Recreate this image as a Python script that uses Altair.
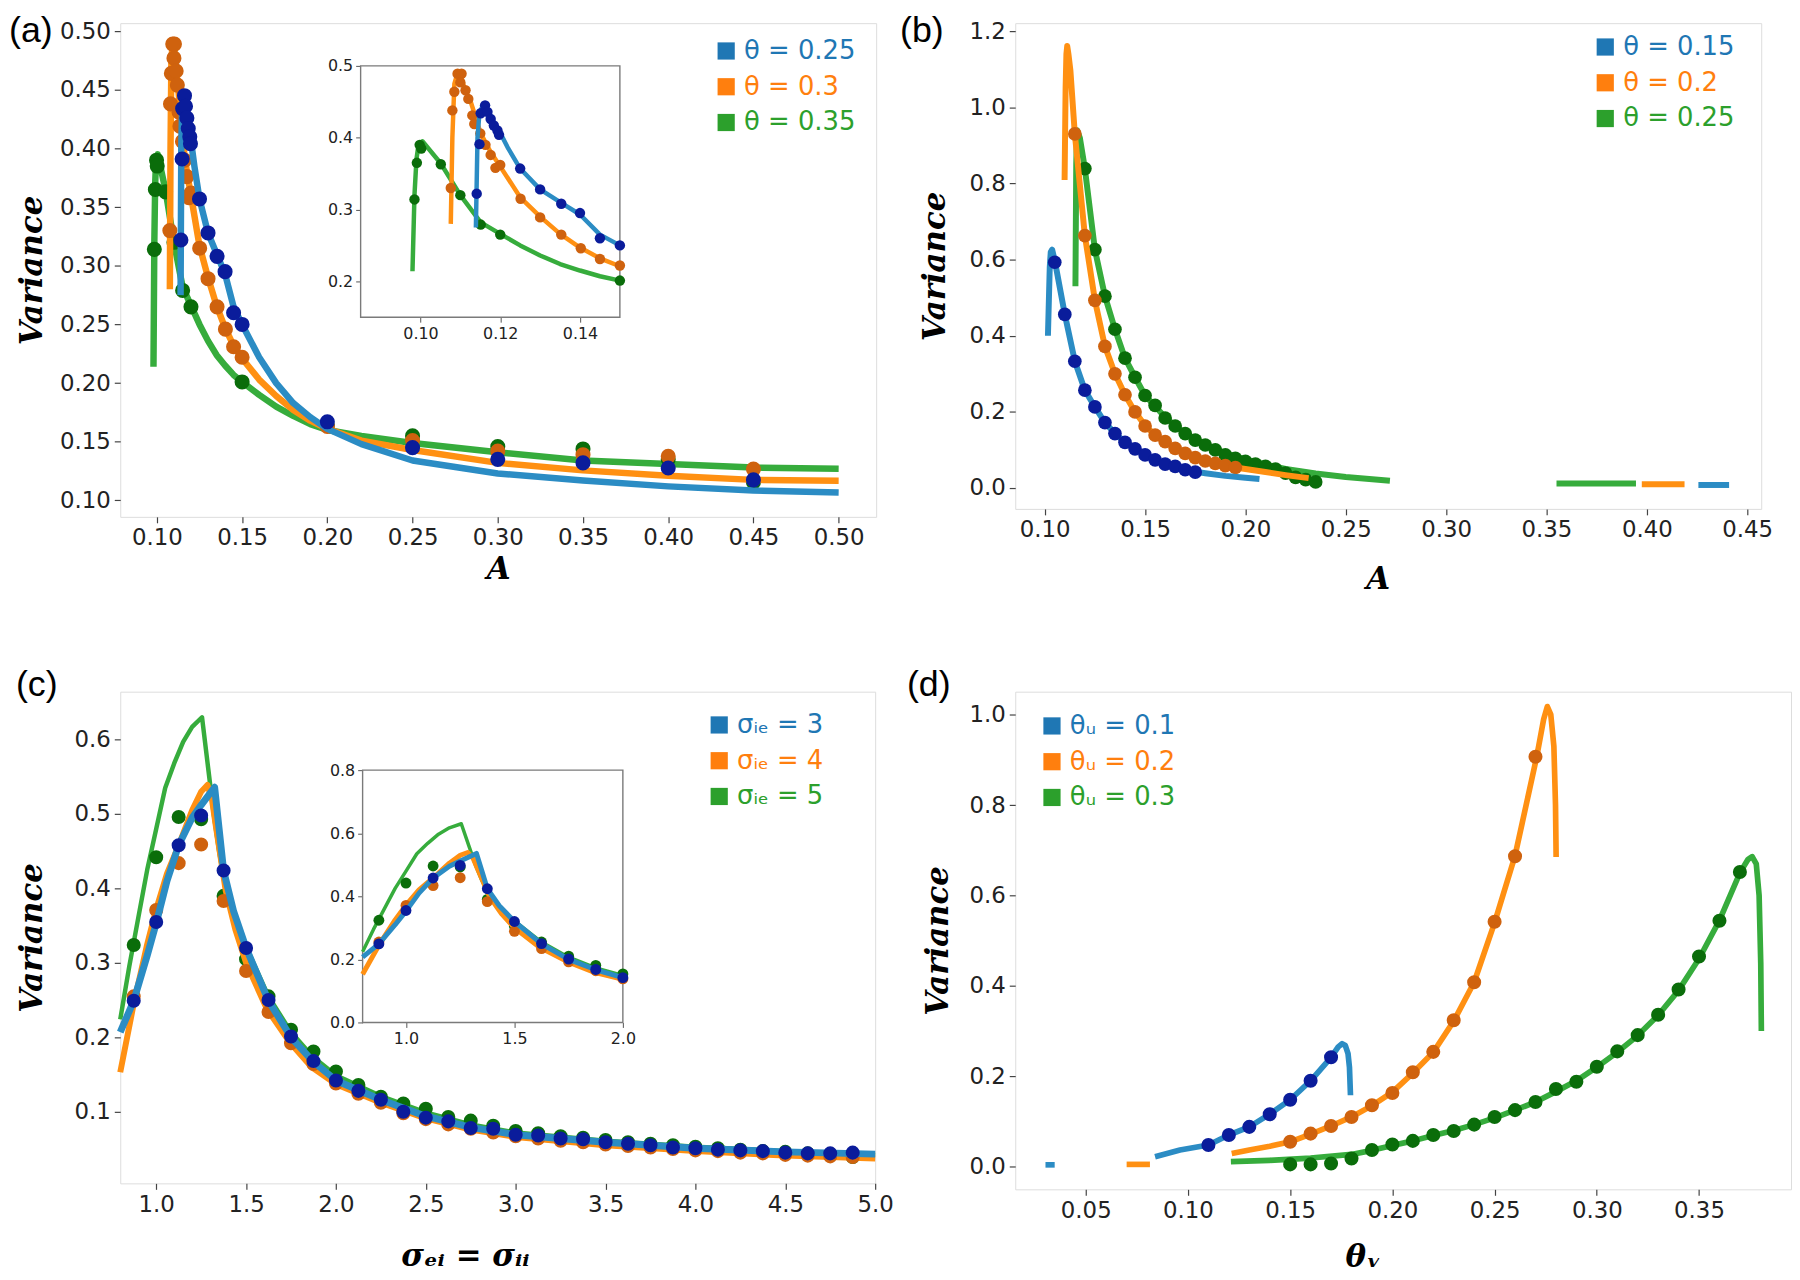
import altair as alt
import pandas as pd

# ---------------- colours ----------------
LEGEND_COLORS = ["#1f77b4", "#ff7f0e", "#2ca02c"]
LINE_COLORS = ["#2b8cc4", "#ff9012", "#36ac3c"]
POINT_COLORS = ["#0a1c9b", "#cf620e", "#0a6d0a"]

# ---------------- panel (a) ----------------
A_NAMES = ["θ = 0.25", "θ = 0.3", "θ = 0.35"]
A_LX_B = [0.1139, 0.1143, 0.1148, 0.1155, 0.116, 0.117, 0.118, 0.1197, 0.122, 0.125, 0.13, 0.1354, 0.14, 0.145, 0.15,
          0.16, 0.17, 0.18, 0.19, 0.2, 0.22, 0.25, 0.3, 0.35, 0.4, 0.45, 0.5]
A_LY_B = [0.275, 0.40, 0.435, 0.443, 0.445, 0.438, 0.425, 0.41, 0.385, 0.357, 0.328, 0.309, 0.293, 0.265, 0.25,
          0.222, 0.2, 0.183, 0.171, 0.161, 0.148, 0.134, 0.123, 0.117, 0.112, 0.1084, 0.1067]
A_LX_O = [0.1076, 0.108, 0.1085, 0.1093, 0.110, 0.111, 0.1126, 0.1151, 0.1176, 0.12, 0.125, 0.13, 0.135, 0.14, 0.145,
          0.15, 0.16, 0.17, 0.18, 0.19, 0.2, 0.22, 0.25, 0.3, 0.35, 0.4, 0.45, 0.5]
A_LY_O = [0.28, 0.40, 0.475, 0.49, 0.488, 0.47, 0.45, 0.406, 0.38, 0.36, 0.317, 0.29, 0.266, 0.247, 0.232,
          0.221, 0.203, 0.189, 0.177, 0.168, 0.161, 0.151, 0.143, 0.132, 0.1256, 0.121, 0.1175, 0.1167]
A_LX_G = [0.098, 0.0985, 0.099, 0.0995, 0.1005, 0.102, 0.1051, 0.11, 0.1151, 0.12, 0.125, 0.13, 0.135, 0.14, 0.145,
          0.15, 0.16, 0.17, 0.18, 0.19, 0.2, 0.22, 0.25, 0.3, 0.35, 0.4, 0.45, 0.5]
A_LY_G = [0.214, 0.32, 0.37, 0.39, 0.395, 0.385, 0.364, 0.32, 0.282, 0.266, 0.250, 0.236, 0.224, 0.215, 0.207,
          0.201, 0.19, 0.18, 0.172, 0.165, 0.16, 0.155, 0.149, 0.141, 0.134, 0.131, 0.128, 0.127]
A_PX_B = [0.1141, 0.1148, 0.1151, 0.1162, 0.1168, 0.1176, 0.1184, 0.1193, 0.1197, 0.125, 0.13, 0.1353, 0.14, 0.145,
          0.15, 0.2, 0.25, 0.3, 0.35, 0.4, 0.45]
A_PY_B = [0.322, 0.391, 0.434, 0.445, 0.436, 0.426, 0.417, 0.41, 0.404, 0.357, 0.328, 0.308, 0.295, 0.26,
          0.25, 0.167, 0.145, 0.135, 0.132, 0.1276, 0.1175]
A_PX_O = [0.1076, 0.108, 0.1085, 0.1093, 0.1103, 0.110, 0.1113, 0.112, 0.113, 0.1135, 0.115, 0.1163, 0.1176, 0.1188,
          0.12, 0.1251, 0.13, 0.1353, 0.1402, 0.145, 0.15, 0.2, 0.25, 0.3, 0.35, 0.4, 0.45]
A_PY_O = [0.33, 0.438, 0.464, 0.489, 0.489, 0.477, 0.466, 0.454, 0.431, 0.419, 0.406, 0.39, 0.376, 0.358,
          0.362, 0.315, 0.289, 0.265, 0.246, 0.231, 0.222, 0.163, 0.151, 0.142, 0.139, 0.1376, 0.1267]
A_PX_G = [0.0985, 0.0991, 0.0998, 0.1002, 0.1051, 0.11, 0.1151, 0.12, 0.15, 0.2, 0.25, 0.3, 0.35, 0.4, 0.45]
A_PY_G = [0.314, 0.365, 0.39, 0.385, 0.363, 0.32, 0.279, 0.265, 0.201, 0.164, 0.155, 0.146, 0.1439, 0.135, 0.1155]
A_XTICKS = [0.10, 0.15, 0.20, 0.25, 0.30, 0.35, 0.40, 0.45, 0.50]
A_YTICKS = [0.10, 0.15, 0.20, 0.25, 0.30, 0.35, 0.40, 0.45, 0.50]
A_INSET_XTICKS = [0.10, 0.12, 0.14]
A_INSET_YTICKS = [0.2, 0.3, 0.4, 0.5]

# ---------------- panel (b) ----------------
B_NAMES = ["θ = 0.15", "θ = 0.2", "θ = 0.25"]
B_LX_B = [0.1016, 0.1025, 0.103, 0.1037, 0.1051, 0.11, 0.115, 0.12, 0.125, 0.13, 0.135, 0.14, 0.145, 0.15, 0.155,
          0.16, 0.165, 0.17, 0.175, 0.18, 0.19, 0.2, 0.207]
B_LY_B = [0.40, 0.58, 0.62, 0.626, 0.595, 0.456, 0.333, 0.257, 0.213, 0.172, 0.143, 0.121, 0.103, 0.087, 0.074,
          0.064, 0.056, 0.049, 0.043, 0.039, 0.032, 0.027, 0.0235]
B_LX_O = [0.1099, 0.1104, 0.1108, 0.1112, 0.1118, 0.1128, 0.115, 0.12, 0.125, 0.13, 0.135, 0.14, 0.145, 0.15, 0.155,
          0.16, 0.165, 0.17, 0.175, 0.18, 0.185, 0.19, 0.195, 0.2, 0.21, 0.22, 0.2315]
B_LY_O = [0.809, 1.05, 1.14, 1.161, 1.14, 1.096, 0.93, 0.663, 0.493, 0.372, 0.30, 0.245, 0.20, 0.164, 0.139,
          0.121, 0.105, 0.092, 0.081, 0.072, 0.065, 0.059, 0.054, 0.05, 0.042, 0.034, 0.026]
B_LX_G = [0.1153, 0.1157, 0.1161, 0.1175, 0.12, 0.125, 0.13, 0.135, 0.14, 0.145, 0.15, 0.155, 0.16, 0.165, 0.17,
          0.175, 0.18, 0.185, 0.19, 0.2, 0.21, 0.22, 0.235, 0.25, 0.272]
B_LY_G = [0.53, 0.85, 0.94, 0.92, 0.839, 0.626, 0.504, 0.417, 0.341, 0.291, 0.243, 0.215, 0.186, 0.163, 0.143,
          0.127, 0.114, 0.102, 0.092, 0.075, 0.062, 0.05, 0.038, 0.029, 0.019]
B_TAIL_X_B = [0.4257, 0.441]
B_TAIL_Y_B = [0.008, 0.008]
B_TAIL_X_O = [0.3975, 0.4188]
B_TAIL_Y_O = [0.010, 0.010]
B_TAIL_X_G = [0.355, 0.3946]
B_TAIL_Y_G = [0.012, 0.012]
B_PX_B = [0.105, 0.11, 0.115, 0.12, 0.125, 0.13, 0.135, 0.14, 0.145, 0.15, 0.155, 0.16, 0.165, 0.17, 0.175]
B_PY_B = [0.593, 0.456, 0.333, 0.257, 0.213, 0.172, 0.143, 0.12, 0.103, 0.087, 0.074, 0.063, 0.057, 0.048, 0.042]
B_PX_O = [0.115, 0.12, 0.125, 0.13, 0.135, 0.14, 0.145, 0.15, 0.155, 0.16, 0.165, 0.17, 0.175, 0.18, 0.185, 0.19,
          0.195]
B_PY_O = [0.93, 0.663, 0.493, 0.372, 0.30, 0.245, 0.20, 0.163, 0.139, 0.122, 0.104, 0.091, 0.08, 0.071, 0.065, 0.059,
          0.054]
B_PX_G = [0.12, 0.125, 0.13, 0.135, 0.14, 0.145, 0.15, 0.155, 0.16, 0.165, 0.17, 0.175, 0.18, 0.185, 0.19, 0.195,
          0.2, 0.205, 0.21, 0.215, 0.22, 0.225, 0.23, 0.235]
B_PY_G = [0.839, 0.626, 0.504, 0.417, 0.341, 0.291, 0.243, 0.217, 0.184, 0.163, 0.143, 0.126, 0.113, 0.10, 0.087,
          0.078, 0.07, 0.063, 0.057, 0.05, 0.039, 0.028, 0.022, 0.016]
B_XTICKS = [0.10, 0.15, 0.20, 0.25, 0.30, 0.35, 0.40, 0.45]
B_YTICKS = [0.0, 0.2, 0.4, 0.6, 0.8, 1.0, 1.2]

# ---------------- panel (c) ----------------
C_NAMES = ["σᵢₑ = 3", "σᵢₑ = 4", "σᵢₑ = 5"]
C_LX_B = [0.8, 0.875, 0.95, 1.0, 1.06, 1.125, 1.2, 1.25, 1.3, 1.325, 1.35, 1.375, 1.43, 1.5, 1.625, 1.75, 1.875,
          2.0, 2.25, 2.5, 2.75, 3.0, 3.5, 4.0, 4.5, 5.0]
C_LY_B = [0.207, 0.249, 0.31, 0.353, 0.41, 0.458, 0.495, 0.512, 0.528, 0.536, 0.48, 0.424, 0.37, 0.32, 0.249, 0.2,
          0.167, 0.142, 0.116, 0.094, 0.079, 0.069, 0.059, 0.051, 0.046, 0.043]
C_LX_O = [0.8, 0.875, 0.95, 1.0, 1.06, 1.125, 1.2, 1.25, 1.285, 1.31, 1.33, 1.386, 1.44, 1.5, 1.616, 1.744, 1.864,
          2.0, 2.25, 2.5, 2.75, 3.0, 3.5, 4.0, 4.5, 5.0]
C_LY_O = [0.153, 0.245, 0.325, 0.372, 0.42, 0.458, 0.505, 0.53, 0.539, 0.52, 0.487, 0.398, 0.345, 0.30, 0.238,
          0.193, 0.16, 0.137, 0.112, 0.091, 0.076, 0.066, 0.055, 0.047, 0.041, 0.037]
C_LX_G = [0.8, 0.85, 0.9, 0.95, 1.0, 1.05, 1.1, 1.15, 1.2, 1.255, 1.29, 1.32, 1.35, 1.375, 1.43, 1.5, 1.625, 1.75,
          1.875, 2.0, 2.25, 2.5, 2.75, 3.0, 3.5, 4.0, 4.5, 5.0]
C_LY_G = [0.224, 0.295, 0.36, 0.425, 0.48, 0.535, 0.568, 0.597, 0.617, 0.63, 0.56, 0.50, 0.45, 0.415, 0.36, 0.322,
          0.255, 0.207, 0.173, 0.149, 0.121, 0.099, 0.083, 0.072, 0.061, 0.053, 0.047, 0.042]
C_PX = [0.875, 1.0, 1.125, 1.25, 1.375, 1.5, 1.625, 1.75, 1.875, 2.0, 2.125, 2.25, 2.375, 2.5, 2.625, 2.75, 2.875,
        3.0, 3.125, 3.25, 3.375, 3.5, 3.625, 3.75, 3.875, 4.0, 4.125, 4.25, 4.375, 4.5, 4.625, 4.75, 4.875]
C_PY_B = [0.249, 0.355, 0.458, 0.498, 0.424, 0.32, 0.25, 0.201, 0.168, 0.142, 0.128, 0.116, 0.10, 0.092, 0.087,
          0.078, 0.077, 0.069, 0.068, 0.064, 0.063, 0.059, 0.057, 0.055, 0.052, 0.051, 0.049, 0.048, 0.047, 0.045,
          0.044, 0.044, 0.045]
C_PY_O = [0.255, 0.371, 0.434, 0.459, 0.383, 0.289, 0.234, 0.192, 0.164, 0.138, 0.124, 0.112, 0.098, 0.09, 0.083,
          0.077, 0.072, 0.067, 0.064, 0.061, 0.059, 0.056, 0.054, 0.052, 0.05, 0.048, 0.047, 0.045, 0.044, 0.042,
          0.041, 0.040, 0.039]
C_PY_G = [0.324, 0.442, 0.496, 0.493, 0.39, 0.305, 0.255, 0.21, 0.181, 0.154, 0.136, 0.12, 0.111, 0.104, 0.093,
          0.088, 0.081, 0.074, 0.071, 0.067, 0.065, 0.062, 0.059, 0.057, 0.055, 0.053, 0.051, 0.049, 0.047, 0.046,
          0.044, 0.043, 0.039]
C_XTICKS = [1.0, 1.5, 2.0, 2.5, 3.0, 3.5, 4.0, 4.5, 5.0]
C_YTICKS = [0.1, 0.2, 0.3, 0.4, 0.5, 0.6]
C_INSET_XTICKS = [1.0, 1.5, 2.0]
C_INSET_YTICKS = [0.0, 0.2, 0.4, 0.6, 0.8]

# ---------------- panel (d) ----------------
D_NAMES = ["θᵤ = 0.1", "θᵤ = 0.2", "θᵤ = 0.3"]
D_LX_B = [0.0839, 0.0961, 0.11, 0.12, 0.13, 0.14, 0.15, 0.16, 0.17, 0.1735, 0.1754, 0.177, 0.1783, 0.179, 0.1795]
D_LY_B = [0.022, 0.037, 0.048, 0.07, 0.088, 0.116, 0.148, 0.19, 0.242, 0.265, 0.272, 0.268, 0.25, 0.22, 0.158]
D_LX_O = [0.1214, 0.13, 0.14, 0.15, 0.16, 0.17, 0.18, 0.19, 0.2, 0.21, 0.22, 0.23, 0.24, 0.25, 0.26, 0.2706, 0.274,
          0.2758, 0.2775, 0.279, 0.2798, 0.2801]
D_LY_O = [0.029, 0.037, 0.045, 0.055, 0.072, 0.09, 0.11, 0.135, 0.165, 0.207, 0.253, 0.322, 0.408, 0.54, 0.688,
          0.907, 0.99, 1.018, 1.0, 0.93, 0.8, 0.685]
D_LX_G = [0.121, 0.14, 0.16, 0.18, 0.19, 0.2, 0.21, 0.22, 0.23, 0.24, 0.25, 0.26, 0.27, 0.28, 0.29, 0.3, 0.31, 0.32,
          0.33, 0.34, 0.35, 0.36, 0.37, 0.374, 0.376, 0.378, 0.3794, 0.3802, 0.3805]
D_LY_G = [0.011, 0.014, 0.019, 0.027, 0.036, 0.047, 0.057, 0.069, 0.08, 0.093, 0.108, 0.125, 0.143, 0.166, 0.19,
          0.22, 0.253, 0.29, 0.335, 0.39, 0.46, 0.545, 0.65, 0.68, 0.686, 0.67, 0.6, 0.45, 0.30]
D_HEAD_X_B = [0.0303, 0.0348]
D_HEAD_Y_B = [0.004, 0.004]
D_HEAD_X_O = [0.070, 0.0814]
D_HEAD_Y_O = [0.005, 0.005]
D_PX_B = [0.11, 0.12, 0.13, 0.14, 0.15, 0.16, 0.17]
D_PY_B = [0.048, 0.07, 0.088, 0.116, 0.148, 0.19, 0.242]
D_PX_O = [0.15, 0.16, 0.17, 0.18, 0.19, 0.20, 0.21, 0.22, 0.23, 0.24, 0.25, 0.26, 0.27]
D_PY_O = [0.055, 0.073, 0.09, 0.11, 0.136, 0.163, 0.209, 0.254, 0.324, 0.408, 0.542, 0.687, 0.907]
D_PX_G = [0.15, 0.16, 0.17, 0.18, 0.19, 0.20, 0.21, 0.22, 0.23, 0.24, 0.25, 0.26, 0.27, 0.28, 0.29, 0.30, 0.31,
          0.32, 0.33, 0.34, 0.35, 0.36, 0.37]
D_PY_G = [0.005, 0.005, 0.007, 0.018, 0.037, 0.049, 0.057, 0.07, 0.079, 0.093, 0.11, 0.125, 0.143, 0.172, 0.188,
          0.221, 0.255, 0.291, 0.336, 0.392, 0.465, 0.544, 0.652]
D_XTICKS = [0.05, 0.10, 0.15, 0.20, 0.25, 0.30, 0.35]
D_YTICKS = [0.0, 0.2, 0.4, 0.6, 0.8, 1.0]


# ---------------- helpers ----------------
def lines_df(names, series_segments):
    rows = []
    for name, segs in zip(names, series_segments):
        for si, (xs, ys) in enumerate(segs):
            for k, (x, y) in enumerate(zip(xs, ys)):
                rows.append({"s": name, "seg": si, "k": k, "x": x, "y": y})
    return pd.DataFrame(rows)


def points_df(names, xs_list, ys_list):
    rows = []
    for name, xs, ys in zip(names, xs_list, ys_list):
        for x, y in zip(xs, ys):
            rows.append({"s": name, "x": x, "y": y})
    return pd.DataFrame(rows)


def main_axis(title, values, fmt, tpad, title_size=31, **extra):
    return alt.Axis(title=title, values=values, format=fmt, titlePadding=tpad, titleFont="DejaVu Serif",
                    titleFontSize=title_size, titleFontWeight="bold", titleFontStyle="italic", titleColor="#000",
                    labelFont="DejaVu Sans", labelFontSize=23, labelColor="#222", labelPadding=4, tickSize=6,
                    tickColor="#444", tickWidth=1.2, domain=False, grid=False, labelOverlap=False, labelFlush=False,
                    **extra)


def inset_axis(values, fmt, orient, offset):
    return alt.Axis(title=None, values=values, format=fmt, orient=orient, offset=offset, labelFont="DejaVu Sans",
                    labelFontSize=16, labelColor="#222", labelPadding=3, tickSize=5, tickColor="#555",
                    domain=False, grid=False, labelOverlap=False, labelFlush=False)


def data_layers(ldf, pdf, names, xenc, yenc, lw, psize, order=(2, 1, 0)):
    layers = []
    for i in order:
        n = names[i]
        line = alt.Chart(ldf).transform_filter(alt.datum.s == n).mark_line(
            color=LINE_COLORS[i], strokeWidth=lw[i], strokeCap="butt", strokeJoin="round"
        ).encode(x=alt.X("x:Q", **xenc), y=alt.Y("y:Q", **yenc), detail="seg:N", order="k:Q")
        pts = alt.Chart(pdf).transform_filter(alt.datum.s == n).mark_circle(
            color=POINT_COLORS[i], size=psize, opacity=1
        ).encode(x=alt.X("x:Q", **xenc), y=alt.Y("y:Q", **yenc))
        layers += [line, pts]
    return layers


def legend_layer(pdf, names, xenc, yenc, lx, ly):
    expr = ("datum.label == '%s' ? '%s' : (datum.label == '%s' ? '%s' : '%s')"
            % (names[0], LEGEND_COLORS[0], names[1], LEGEND_COLORS[1], LEGEND_COLORS[2]))
    leg = alt.Legend(title=None, orient="none", legendX=lx, legendY=ly, symbolType="square", symbolSize=300,
                     symbolStrokeWidth=0, symbolOpacity=1, labelFont="DejaVu Sans", labelFontSize=26,
                     labelColor=alt.ExprRef(expr), labelOffset=5, rowPadding=10, labelLimit=400, padding=0)
    return alt.Chart(pdf).mark_square(size=0, opacity=1).encode(
        x=alt.X("x:Q", **xenc), y=alt.Y("y:Q", **yenc),
        color=alt.Color("s:N", scale=alt.Scale(domain=names, range=LEGEND_COLORS), legend=leg))


def label_layer(text, x, y):
    return alt.Chart(pd.DataFrame({"t": [text]})).mark_text(
        font="Liberation Sans", fontSize=36, align="left", baseline="top", color="#000"
    ).encode(text="t:N", x=alt.value(x), y=alt.value(y))


def inset_group(ldf, pdf, names, xdom, ydom, xr, yr, xticks, yticks, xfmt, yfmt, H, lw, psize):
    xs = alt.Scale(domain=xdom, range=xr, nice=False, zero=False)
    ys = alt.Scale(domain=ydom, range=yr, nice=False, zero=False)
    xenc = dict(scale=xs, axis=inset_axis(xticks, xfmt, "bottom", yr[0] - H))
    yenc = dict(scale=ys, axis=inset_axis(yticks, yfmt, "left", -xr[0]))
    l2 = ldf[(ldf.x >= xdom[0]) & (ldf.x <= xdom[1])]
    p2 = pdf[(pdf.x >= xdom[0]) & (pdf.x <= xdom[1])]
    frame_df = pd.DataFrame({"x0": [xdom[0]], "x1": [xdom[1]], "y0": [ydom[0]], "y1": [ydom[1]]})
    frame = alt.Chart(frame_df).mark_rect(fill="white", stroke="#7a7a7a", strokeWidth=1.4).encode(
        x=alt.X("x0:Q", **xenc), x2="x1:Q", y=alt.Y("y0:Q", **yenc), y2="y1:Q")
    return alt.layer(frame, *data_layers(l2, p2, names, xenc, yenc, lw, psize))


def panel(ldf, pdf, names, xdom, ydom, W, H, xaxis, yaxis, lw, psize, leg_xy, label, label_xy, inset=None):
    xenc = dict(scale=alt.Scale(domain=xdom, nice=False, zero=False), axis=xaxis)
    yenc = dict(scale=alt.Scale(domain=ydom, nice=False, zero=False), axis=yaxis)
    main = alt.layer(*data_layers(ldf, pdf, names, xenc, yenc, lw, psize),
                     legend_layer(pdf, names, xenc, yenc, leg_xy[0], leg_xy[1]),
                     label_layer(label, label_xy[0], label_xy[1]))
    if inset is None:
        return main.properties(width=W, height=H)
    return alt.layer(main, inset).resolve_scale(x="independent", y="independent").properties(width=W, height=H)


# ---------------- build panels ----------------
a_l = lines_df(A_NAMES, [[(A_LX_B, A_LY_B)], [(A_LX_O, A_LY_O)], [(A_LX_G, A_LY_G)]])
a_p = points_df(A_NAMES, [A_PX_B, A_PX_O, A_PX_G], [A_PY_B, A_PY_O, A_PY_G])
AW, AH = 761, 497
a_inset = inset_group(a_l, a_p, A_NAMES, [0.085, 0.15], [0.15, 0.5], [242, 503], [296, 43],
                      A_INSET_XTICKS, A_INSET_YTICKS, ".2f", ".1f", AH, [4.5, 4.5, 4.5], 110)
pa = panel(a_l, a_p, A_NAMES, [0.0785, 0.522], [0.086, 0.5068], AW, AH,
           main_axis("A", A_XTICKS, ".2f", 5), main_axis("Variance", A_YTICKS, ".2f", 11),
           [6.5, 6.5, 6.5], 230, (597, 15), "(a)", (-112, -9), a_inset)

b_l = lines_df(B_NAMES, [[(B_LX_B, B_LY_B), (B_TAIL_X_B, B_TAIL_Y_B)],
                         [(B_LX_O, B_LY_O), (B_TAIL_X_O, B_TAIL_Y_O)],
                         [(B_LX_G, B_LY_G), (B_TAIL_X_G, B_TAIL_Y_G)]])
b_p = points_df(B_NAMES, [B_PX_B, B_PX_O, B_PX_G], [B_PY_B, B_PY_O, B_PY_G])
BW, BH = 751, 489
pb = panel(b_l, b_p, B_NAMES, [0.0853, 0.457], [-0.0548, 1.2209], BW, BH,
           main_axis("A", B_XTICKS, ".2f", 23, titleX=365), main_axis("Variance", B_YTICKS, ".1f", 18),
           [6, 6, 6], 190, (581, 11), "(b)", (-116, -9))

c_l = lines_df(C_NAMES, [[(C_LX_B, C_LY_B)], [(C_LX_O, C_LY_O)], [(C_LX_G, C_LY_G)]])
c_p = points_df(C_NAMES, [C_PX, C_PX, C_PX], [C_PY_B, C_PY_O, C_PY_G])
CW, CH = 760, 495
c_inset = inset_group(c_l, c_p, C_NAMES, [0.8, 2.0], [0.0, 0.8], [244, 506], [333, 79],
                      C_INSET_XTICKS, C_INSET_YTICKS, ".1f", ".1f", CH, [5, 5, 3.5], 120)
pc = panel(c_l, c_p, C_NAMES, [0.8, 5.0], [0.0037, 0.6644], CW, CH,
           main_axis("σₑᵢ = σᵢᵢ", C_XTICKS, ".1f", 26, titleX=347), main_axis("Variance", C_YTICKS, ".1f", 26),
           [7, 6, 4.5], 200, (590, 20.5), "(c)", (-105, -24), c_inset)

d_l = lines_df(D_NAMES, [[(D_LX_B, D_LY_B), (D_HEAD_X_B, D_HEAD_Y_B)],
                         [(D_LX_O, D_LY_O), (D_HEAD_X_O, D_HEAD_Y_O)],
                         [(D_LX_G, D_LY_G)]])
d_p = points_df(D_NAMES, [D_PX_B, D_PX_O, D_PX_G], [D_PY_B, D_PY_O, D_PY_G])
DW, DH = 781, 501
pd_ = panel(d_l, d_p, D_NAMES, [0.0155, 0.395], [-0.0502, 1.051], DW, DH,
            main_axis("θᵥ", D_XTICKS, ".2f", 21, titleX=350), main_axis("Variance", D_YTICKS, ".1f", 15),
            [5.7, 5.7, 5.7], 200, (24, 21.5), "(d)", (-109, -24))

row1 = alt.hconcat(pa, pb, spacing=22).resolve_scale(color="independent", x="independent", y="independent")
row2 = alt.hconcat(pc, pd_, spacing=12).resolve_scale(color="independent", x="independent", y="independent")
chart = alt.vconcat(row1, row2, spacing=71).resolve_scale(
    color="independent", x="independent", y="independent"
).properties(padding={"left": 0, "top": 0, "right": 0, "bottom": 0}).configure_view(
    stroke="#666", strokeWidth=1.3
).configure(background="white")

chart.save("out.html", embed_options={"renderer": "svg", "actions": False})
